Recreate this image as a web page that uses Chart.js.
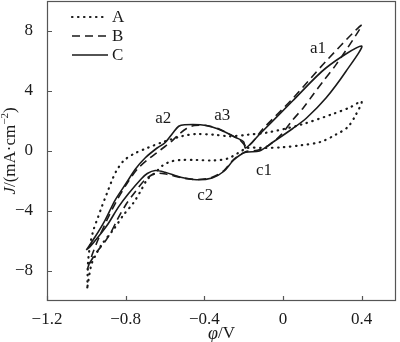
<!DOCTYPE html>
<html lang="en">
<head>
<meta charset="UTF-8">
<title>Cyclic voltammograms A, B, C</title>
<script src="https://cdn.jsdelivr.net/npm/chart.js"></script>
<style>
  html, body { margin: 0; padding: 0; background: #fff; }
</style>
</head>
<body>
<canvas id="cv" width="400" height="342"></canvas>
<script>
// each scan is one closed loop: from -1.0 V up to 0.4 V and back down
const aV = [-0.995, -0.993, -0.99, -0.98, -0.964, -0.94, -0.922, -0.896, -0.871, -0.846, -0.81, -0.76, -0.69, -0.61, -0.51, -0.44, -0.35, -0.27, -0.18, -0.08, 0.09, 0.25, 0.34, 0.4,
            0.37, 0.33, 0.27, 0.19, 0.09, 0.0, -0.1, -0.18, -0.23, -0.28, -0.35, -0.44, -0.52, -0.57, -0.61, -0.65, -0.69, -0.725, -0.76, -0.81, -0.86, -0.92, -0.955, -0.975, -0.995];
const aJ = [-9.1, -8.0, -7.2, -6.2, -5.28, -4.4, -3.74, -2.85, -2.0, -1.3, -0.65, -0.2, 0.2, 0.6, 1.0, 1.13, 1.08, 0.98, 1.08, 1.23, 1.75, 2.45, 2.9, 3.3,
            2.4, 1.6, 1.1, 0.6, 0.38, 0.25, 0.2, 0.2, -0.15, -0.5, -0.63, -0.6, -0.6, -0.7, -0.95, -1.45, -1.9, -2.7, -3.45, -4.25, -5.2, -6.2, -7.0, -7.6, -9.1];

const bV = [-0.995, -0.97, -0.94, -0.895, -0.845, -0.79, -0.74, -0.69, -0.64, -0.6, -0.57, -0.53, -0.49, -0.45, -0.39, -0.33, -0.27, -0.22, -0.18, -0.1, 0.05, 0.22, 0.4,
            0.33, 0.27, 0.205, 0.154, 0.104, 0.045, -0.006, -0.07, -0.13, -0.19, -0.25, -0.3, -0.36, -0.43, -0.51, -0.59, -0.65, -0.7, -0.75, -0.8, -0.844, -0.878, -0.912, -0.945, -0.975, -0.995];
const bJ = [-7.9, -6.9, -5.9, -4.6, -3.3, -2.1, -1.2, -0.6, -0.1, 0.3, 0.6, 1.1, 1.5, 1.7, 1.7, 1.5, 1.1, 0.75, 0.3, 1.5, 3.5, 6.0, 8.4,
            6.9, 5.76, 4.66, 3.77, 2.89, 2.0, 1.13, 0.4, 0.05, -0.05, -0.55, -1.3, -1.75, -1.9, -1.8, -1.55, -1.5, -1.9, -2.7, -3.6, -4.62, -5.5, -6.16, -6.7, -7.3, -7.9];

const cV = [-1.0, -0.955, -0.905, -0.854, -0.8, -0.75, -0.7, -0.64, -0.6, -0.56, -0.53, -0.5, -0.42, -0.36, -0.3, -0.24, -0.2, -0.19, -0.12, 0.05, 0.22, 0.4,
            0.32, 0.22, 0.12, 0.05, -0.05, -0.12, -0.19, -0.25, -0.3, -0.36, -0.44, -0.52, -0.6, -0.65, -0.69, -0.72, -0.786, -0.837, -0.888, -0.939, -0.981, -1.0];
const cJ = [-6.6, -5.72, -4.62, -3.29, -2.2, -1.2, -0.45, 0.2, 0.55, 1.2, 1.65, 1.75, 1.75, 1.6, 1.3, 0.9, 0.62, 0.2, 1.1, 3.35, 5.55, 7.0,
            5.3, 3.55, 2.2, 1.5, 0.6, 0.0, -0.09, -0.6, -1.35, -1.8, -1.92, -1.75, -1.42, -1.3, -1.5, -1.85, -2.85, -3.74, -4.83, -5.72, -6.38, -6.6];

const xTicks = [-1.2, -0.8, -0.4, 0, 0.4];
const yTicks = [-8, -4, 0, 4, 8];

// peak names and where they sit (V, mA/cm2)
const peakNames = ['a1', 'a2', 'a3', 'c1', 'c2'];
const peakV = [0.178, -0.609, -0.309, -0.096, -0.395];
const peakJ = [6.84, 2.14, 2.34, -1.3, -2.96];

const serif = "'Liberation Serif', 'Times New Roman', serif";
const ink = '#1a1a1a';
const frame = '#555';

const toPts = (xs, ys) => xs.map((x, i) => ({ x: x, y: ys[i] }));
const fmt = v => (v < 0 ? '\u2212' : '') + Math.abs(v);

// frame, inward ticks, legend, peak names and axis titles
const decorations = {
    id: 'decorations',
    afterDatasetsDraw(chart) {
        const ctx = chart.ctx;
        const a = chart.chartArea;
        const xs = chart.scales.x, ys = chart.scales.y;
        ctx.save();

        ctx.strokeStyle = frame;
        ctx.lineWidth = 1.2;
        ctx.strokeRect(a.left + 0.5, a.top + 0.5, a.right - a.left - 1, a.bottom - a.top - 1);
        ctx.beginPath();
        xTicks.forEach(v => {
            const px = Math.round(xs.getPixelForValue(v)) + 0.5;
            ctx.moveTo(px, a.bottom);
            ctx.lineTo(px, a.bottom - 5);
        });
        yTicks.forEach(v => {
            const py = Math.round(ys.getPixelForValue(v)) + 0.5;
            ctx.moveTo(a.left, py);
            ctx.lineTo(a.left + 5, py);
        });
        ctx.stroke();

        // legend
        ctx.fillStyle = ink;
        ctx.font = '17px ' + serif;
        ctx.textBaseline = 'middle';
        ctx.textAlign = 'left';
        chart.data.datasets.forEach((ds, i) => {
            const y = 17 + 19 * i;
            ctx.strokeStyle = ds.borderColor;
            ctx.lineWidth = ds.borderWidth;
            ctx.lineCap = ds.borderCapStyle || 'butt';
            ctx.setLineDash(ds.borderDash || []);
            ctx.beginPath();
            ctx.moveTo(72, y);
            ctx.lineTo(108, y);
            ctx.stroke();
            ctx.setLineDash([]);
            ctx.fillText(ds.label, 112, y + 1);
        });

        // peak names
        ctx.font = '17px ' + serif;
        ctx.textAlign = 'center';
        peakNames.forEach((n, i) => {
            ctx.fillText(n, xs.getPixelForValue(peakV[i]), ys.getPixelForValue(peakJ[i]));
        });

        // x title: φ/V
        const xt = [{ t: '\u03c6', f: 'italic 18px ' + serif }, { t: '/V', f: '17px ' + serif }];
        drawRuns(ctx, xt, (a.left + a.right) / 2, 334);

        // y title: J/(mA·cm⁻²), rotated
        ctx.save();
        ctx.translate(11, (a.top + a.bottom) / 2);
        ctx.rotate(-Math.PI / 2);
        const yt = [
            { t: 'J', f: 'italic 17px ' + serif },
            { t: '/(mA\u00b7cm', f: '17px ' + serif },
            { t: '\u22122', f: '11px ' + serif, dy: -6 },
            { t: ')', f: '17px ' + serif }
        ];
        drawRuns(ctx, yt, 0, 0);
        ctx.restore();

        ctx.restore();
    }
};

function drawRuns(ctx, runs, cx, cy) {
    let w = 0;
    runs.forEach(r => { ctx.font = r.f; r.w = ctx.measureText(r.t).width; w += r.w; });
    let x = cx - w / 2;
    ctx.textAlign = 'left';
    ctx.textBaseline = 'middle';
    runs.forEach(r => {
        ctx.font = r.f;
        ctx.fillText(r.t, x, cy + (r.dy || 0));
        x += r.w;
    });
}

const line = { pointRadius: 0, tension: 0.3, fill: false, borderColor: ink };

new Chart(document.getElementById('cv').getContext('2d'), {
    type: 'line',
    data: {
        datasets: [
            Object.assign({ label: 'A', data: toPts(aV, aJ), borderWidth: 2.2, borderDash: [0.5, 5.5], borderCapStyle: 'round' }, line),
            Object.assign({ label: 'B', data: toPts(bV, bJ), borderWidth: 1.6, borderDash: [8, 5] }, line),
            Object.assign({ label: 'C', data: toPts(cV, cJ), borderWidth: 1.6 }, line)
        ]
    },
    options: {
        responsive: false,
        animation: false,
        layout: { padding: { top: 1, right: 4, bottom: 0, left: 0 } },
        plugins: { legend: { display: false }, tooltip: { enabled: false } },
        scales: {
            x: {
                type: 'linear',
                min: -1.2,
                max: 0.575,
                grid: { display: false },
                border: { display: false },
                ticks: { color: ink, padding: 0, font: { family: serif, size: 17 }, callback: fmt },
                afterBuildTicks: s => { s.ticks = xTicks.map(v => ({ value: v })); },
                afterFit: s => { s.height = 41; s.paddingLeft = 0; s.paddingRight = 0; }
            },
            y: {
                type: 'linear',
                min: -10,
                max: 10,
                grid: { display: false },
                border: { display: false },
                ticks: { color: ink, padding: 6, font: { family: serif, size: 17 }, callback: fmt },
                afterBuildTicks: s => { s.ticks = yTicks.map(v => ({ value: v })); },
                afterFit: s => { s.width = 47; s.paddingTop = 0; s.paddingBottom = 0; }
            }
        }
    },
    plugins: [decorations]
});
</script>
</body>
</html>
